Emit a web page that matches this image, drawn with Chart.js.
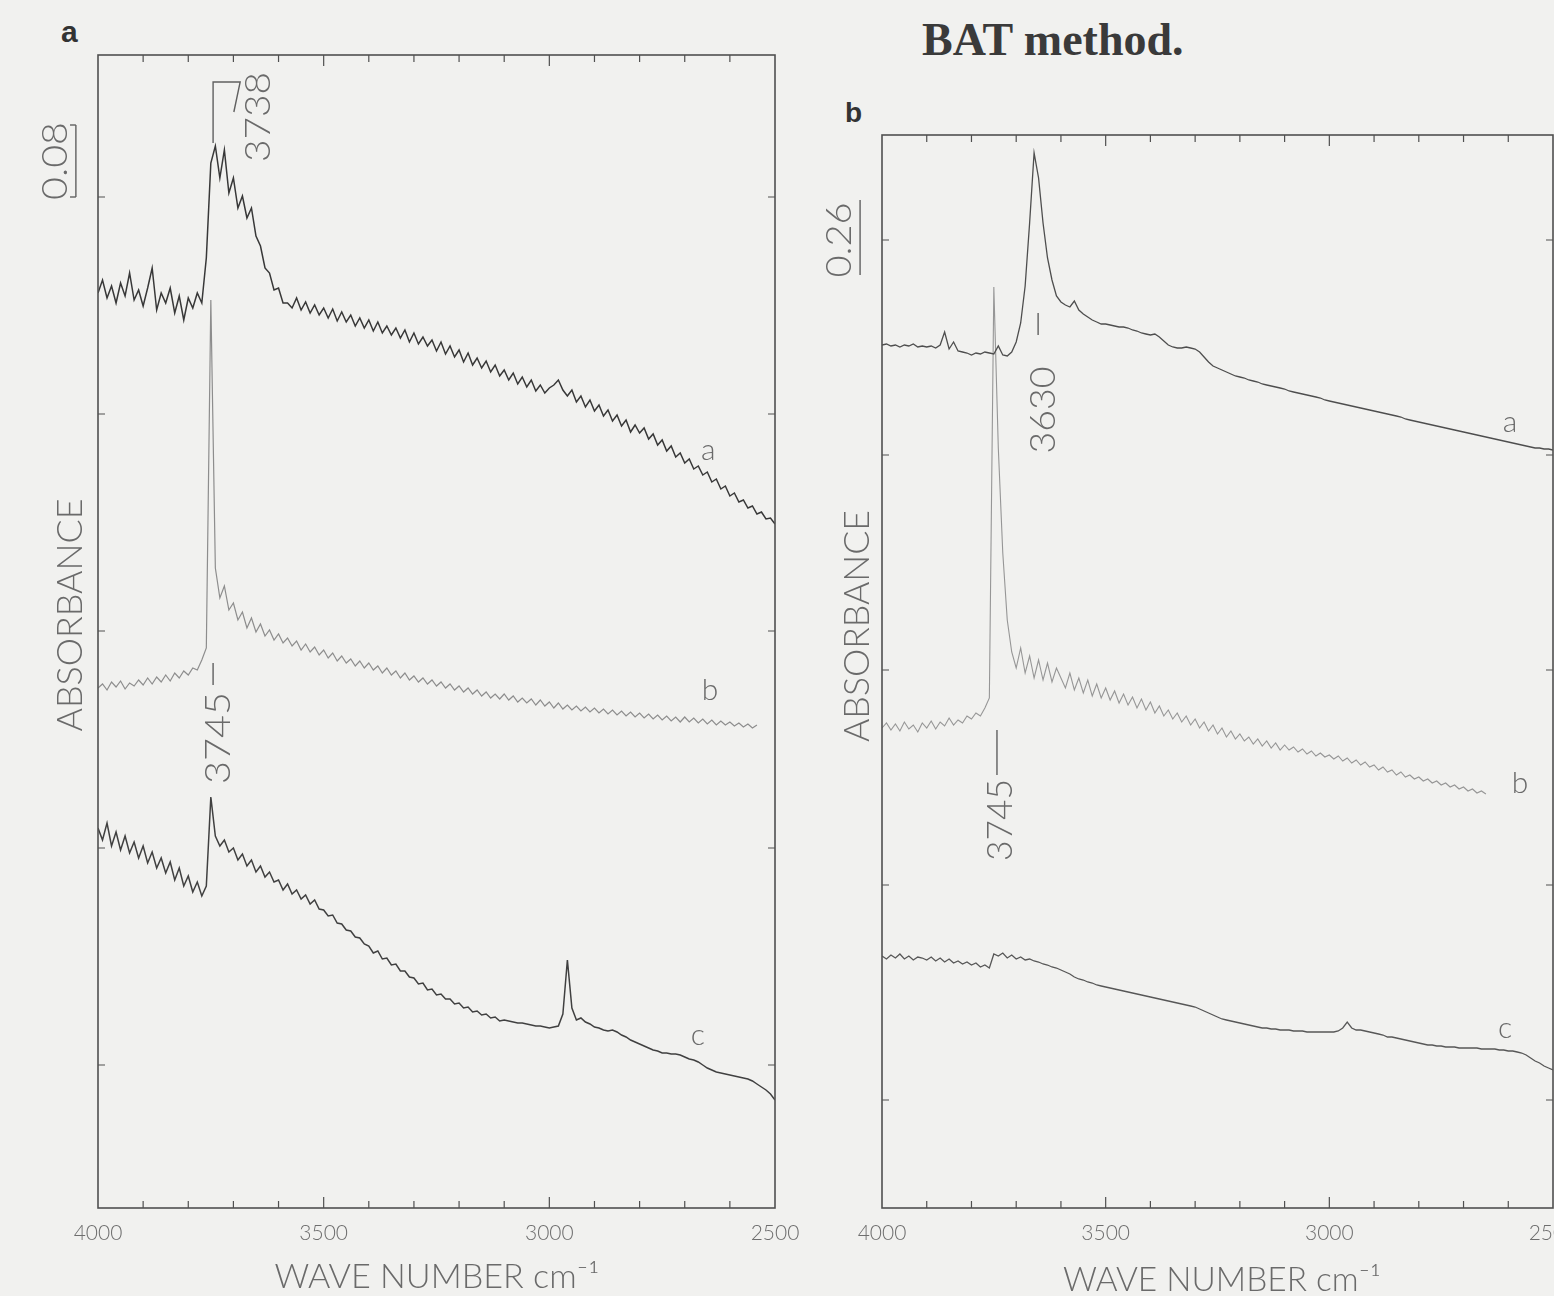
<!DOCTYPE html>
<html>
<head>
<meta charset="utf-8">
<script src="https://cdn.jsdelivr.net/npm/chart.js@4.4.1/dist/chart.umd.min.js"></script>
<style>
  body { margin: 0; width: 1554px; height: 1296px; background: #f1f1ef; overflow: hidden; position: relative; }
  canvas { position: absolute; top: 0; }
  #left { left: 0; }
  #right { left: 800px; }
  .heading { position: absolute; left: 922px; top: 17px; font: bold 46px "Liberation Serif", serif; color: #3a3a3a; line-height: 1; white-space: nowrap; }
  .panel { position: absolute; font: bold 30px "Liberation Sans", sans-serif; color: #333; line-height: 1; }
</style>
</head>
<body>
<div class="heading">BAT method.</div>
<div class="panel" style="left:61px; top:17px;">a</div>
<div class="panel" style="left:845px; top:99px; font-size:28px;">b</div>
<canvas id="left" width="800" height="1296"></canvas>
<canvas id="right" width="754" height="1296"></canvas>
<script>
// wave number grid, 4000 -> 2500 cm-1, one reading every 10 cm-1
const waveNumbers = [];
for (let wn = 4000; wn >= 2500; wn -= 10) waveNumbers.push(wn);

const xTickLabels = [4000, 3500, 3000, 2500];
const xTickMarks = [3900, 3800, 3700, 3600, 3500, 3400, 3300, 3200, 3100, 3000, 2900, 2800, 2700, 2600];

// panel a (relative absorbance, 900 units = 1 absorbance)
const leftA = [
  915, 928, 910, 922, 905, 925, 912, 935, 908, 918,
  902, 920, 940, 898, 915, 905, 920, 895, 912, 888,
  910, 900, 915, 905, 950, 1045, 1062, 1030, 1058, 1015,
  1030, 1000, 1012, 990, 1000, 972, 962, 940, 935, 918,
  920, 905, 905, 900, 910, 898, 906, 895, 903, 893,
  900, 890, 899, 887, 896, 886, 893, 882, 890, 880,
  888, 877, 886, 875, 882, 873, 880, 870, 878, 866,
  875, 864, 871, 862, 868, 857, 866, 854, 862, 851,
  858, 846, 855, 843, 850, 840, 847, 836, 843, 832,
  838, 828, 835, 824, 831, 821, 828, 817, 823, 815,
  820, 823, 828, 818, 812, 818, 806, 812, 801, 808,
  797, 803, 792, 798, 787, 793, 782, 788, 776, 783,
  775, 780, 769, 774, 763, 768, 757, 762, 751, 755,
  745, 749, 739, 742, 733, 736, 726, 729, 719, 722,
  712, 715, 706, 708, 700, 702, 694, 696, 689, 690,
  684
];
const leftB = [
  520, 524, 518, 526, 521, 527, 519, 525, 522, 528,
  523, 530, 524, 531, 526, 533, 527, 535, 530, 537,
  533, 540, 538, 548, 560, 908, 640, 610, 622, 598,
  605, 588, 596, 580, 590, 576, 584, 572, 578, 568,
  574, 565, 570, 562, 567, 558, 564, 556, 561, 553,
  558, 550, 555, 547, 552, 545, 549, 542, 547, 540,
  545, 538, 542, 535, 540, 533, 537, 530, 535, 528,
  532, 526, 530, 524, 528, 522, 526, 520, 524, 518,
  522, 516, 520, 514, 518, 512, 516, 510, 514, 509,
  514, 508, 512, 506, 510, 505, 509, 503, 508, 502,
  506, 500, 505, 499, 503, 498, 502, 497, 501, 496,
  500, 495, 499, 494, 498, 493, 497, 492, 496, 491,
  495, 490, 494, 489, 493, 488, 492, 487, 491, 486,
  491, 486, 490, 485, 489, 484, 488, 483, 487, 483,
  486, 482, 485, 481, 484, 480, 483, null, null, null,
  null
];
const leftC = [
  380, 368, 385, 362, 376, 358, 372, 355, 366, 350,
  362, 345, 356, 340, 350, 335, 346, 328, 340, 322,
  332, 316, 326, 312, 322, 411, 372, 362, 368, 356,
  360, 348, 354, 342, 348, 336, 342, 331, 336, 326,
  328, 318, 324, 314, 318, 309, 313, 304, 308, 299,
  298, 292, 293, 285, 284, 278, 277, 271, 270, 264,
  262, 255, 257, 249, 250, 243, 244, 237, 237, 231,
  230, 224, 225, 218, 219, 213, 214, 209, 209, 204,
  205, 200, 201, 196, 197, 193, 194, 190, 191, 187,
  188, 187, 186, 185, 185, 184, 183, 182, 182, 181,
  180, 181, 182, 194, 248, 200, 188, 190, 186, 184,
  181, 180, 178, 177, 178, 176, 173, 171, 168, 166,
  164, 162, 160, 158, 157, 155, 155, 154, 154, 153,
  151, 149, 148, 146, 143, 140, 138, 136, 135, 134,
  133, 132, 131, 130, 129, 127, 124, 121, 118, 114,
  108
];

// panel b (relative absorbance, 288 units = 1 absorbance)
const rightA = [
  863, 864, 862, 863, 861, 863, 862, 864, 861, 862,
  861, 862, 860, 863, 876, 859, 866, 857, 856, 855,
  853, 855, 854, 856, 855, 854, 862, 853, 852, 856,
  866, 885, 922, 985, 1055, 1030, 985, 950, 928, 912,
  906, 903, 901, 907, 898, 894, 891, 888, 886, 884,
  884, 883, 882, 881, 881, 880, 878, 877, 875, 874,
  873, 874, 871, 867, 863, 861, 860, 860, 861, 860,
  859, 856, 851, 846, 842, 840, 838, 836, 834, 832,
  831, 830, 828, 827, 826, 824, 823, 822, 821, 820,
  819, 817, 816, 815, 814, 813, 812, 811, 810, 808,
  807, 806, 805, 804, 803, 802, 801, 800, 799, 798,
  797, 796, 795, 794, 793, 792, 791, 789, 788, 787,
  786, 785, 784, 783, 782, 781, 780, 779, 778, 777,
  776, 775, 774, 773, 772, 771, 770, 769, 768, 767,
  766, 765, 764, 763, 762, 761, 760, 760, 759, 759,
  758
];
const rightB = [
  480, 485, 478, 484, 477, 486, 479, 483, 476, 485,
  480, 487, 479, 486, 482, 490, 483, 488, 485, 492,
  489, 495, 492, 500, 510, 921, 760, 655, 588, 556,
  540, 560, 535, 552, 530, 548, 528, 545, 526, 540,
  530, 520, 535, 518, 530, 515, 528, 512, 524, 510,
  520, 508, 517, 505, 514, 503, 511, 500, 509, 498,
  506, 495, 502, 492, 498, 489, 495, 486, 492, 483,
  489, 480, 486, 477, 483, 474, 480, 471, 477, 469,
  474, 467, 471, 464, 469, 462, 467, 460, 465, 458,
  463, 458, 461, 456, 459, 454, 457, 452, 455, 451,
  453, 449, 452, 447, 450, 445, 448, 443, 446, 441,
  443, 438, 441, 436, 438, 433, 436, 431, 433, 429,
  431, 427, 429, 425, 427, 423, 425, 421, 423, 419,
  421, 417, 419, 415, 417, 414, null, null, null, null,
  null, null, null, null, null, null, null, null, null, null,
  null
];
const rightC = [
  252, 249, 253, 250, 254, 249, 252, 248, 251, 250,
  248, 251, 247, 250, 246, 249, 245, 247, 244, 246,
  243, 245, 241, 243, 240, 254, 252, 255, 250, 253,
  249, 251, 248, 249, 247, 246, 244, 243, 241, 240,
  238, 236, 234, 231, 229, 228, 226, 225, 223, 222,
  221, 220, 219, 218, 217, 216, 215, 214, 213, 212,
  211, 210, 209, 208, 207, 206, 205, 204, 203, 202,
  201, 199, 197, 195, 193, 191, 189, 188, 187, 186,
  185, 184, 183, 182, 181, 180, 180, 179, 179, 178,
  178, 178, 177, 177, 177, 176, 176, 176, 176, 176,
  176, 176, 177, 180, 186, 180, 178, 178, 177, 176,
  175, 174, 173, 171, 171, 170, 169, 168, 167, 166,
  165, 164, 163, 163, 162, 162, 161, 161, 161, 160,
  160, 160, 160, 160, 159, 159, 159, 159, 158, 158,
  157, 157, 156, 155, 153, 150, 147, 145, 142, 140,
  138
];

const textFont = "Lato, 'DejaVu Sans', sans-serif";
const toPoints = (values) => values.map((v, i) => ({ x: waveNumbers[i], y: v }));

const drawText = (ctx, t, x, y) => {
  ctx.save();
  ctx.translate(x, y);
  if (t.rotate) ctx.rotate(-Math.PI / 2);
  ctx.font = `300 ${t.size}px ${textFont}`;
  ctx.fillStyle = t.color || "#6a6a6a";
  ctx.textAlign = "center";
  ctx.textBaseline = "middle";
  if (t.width) ctx.scale(t.width / ctx.measureText(t.text).width, 1);
  ctx.fillText(t.text, 0, 0);
  ctx.restore();
};

// frame, inward tick marks, peak markers and captions
const annotate = {
  id: "annotate",
  afterDraw(chart, args, opts) {
    const { ctx, chartArea: area, scales: { x, y } } = chart;
    const px = (wn) => x.getPixelForValue(wn);
    const py = (v) => y.getPixelForValue(v);
    ctx.save();
    ctx.strokeStyle = "#505050";
    ctx.lineWidth = 1.6;
    ctx.strokeRect(area.left, area.top, area.right - area.left, area.bottom - area.top);

    ctx.lineWidth = 1.2;
    ctx.beginPath();
    xTickMarks.forEach((wn) => {
      const len = wn % 500 === 0 ? 11 : 7;
      ctx.moveTo(px(wn), area.bottom);
      ctx.lineTo(px(wn), area.bottom - len);
      ctx.moveTo(px(wn), area.top);
      ctx.lineTo(px(wn), area.top + len);
    });
    opts.yTicks.forEach((v) => {
      ctx.moveTo(area.left, py(v));
      ctx.lineTo(area.left + 7, py(v));
      ctx.moveTo(area.right, py(v));
      ctx.lineTo(area.right - 7, py(v));
    });
    ctx.stroke();

    ctx.strokeStyle = "#606060";
    ctx.lineWidth = 1.4;
    opts.leaders.forEach((pts) => {
      ctx.beginPath();
      pts.forEach(([wn, v], i) => (i ? ctx.lineTo(px(wn), py(v)) : ctx.moveTo(px(wn), py(v))));
      ctx.stroke();
    });

    opts.texts.forEach((t) => drawText(ctx, t, px(t.wn), py(t.v)));
    ctx.restore();
  },
};

const makeChart = (id, series, yMax, padding, annotations) => {
  const datasets = series.map((s) => ({
    data: toPoints(s.values),
    borderColor: s.color,
    borderWidth: s.width,
    pointRadius: 0,
    tension: 0,
    spanGaps: false,
  }));

  new Chart(id, {
    type: "line",
    data: { datasets },
    options: {
      responsive: false,
      animation: false,
      devicePixelRatio: 1,
      layout: { padding },
      plugins: {
        legend: { display: false },
        tooltip: { enabled: false },
        annotate: annotations,
      },
      scales: {
        x: {
          type: "linear",
          reverse: true,
          min: 2500,
          max: 4000,
          grid: { display: false },
          border: { display: false },
          afterBuildTicks: (scale) => {
            scale.ticks = xTickLabels.map((value) => ({ value }));
          },
          afterFit: (scale) => {
            scale.height = 40;
            scale.paddingLeft = 0;
            scale.paddingRight = 0;
          },
          ticks: {
            color: "#6e6e6e",
            padding: 5,
            maxRotation: 0,
            autoSkip: false,
            font: { family: textFont, size: 21, weight: 300 },
            callback: (value) => String(value),
          },
        },
        y: { type: "linear", display: false, min: 0, max: yMax },
      },
    },
    plugins: [annotate],
  });
};

makeChart(
  "left",
  [
    { values: leftA, color: "#383838", width: 1.5 },
    { values: leftB, color: "#8d8d8d", width: 1.2 },
    { values: leftC, color: "#404040", width: 1.5 },
  ],
  1153,
  { left: 98, right: 25, top: 55, bottom: 48 },
  {
    yTicks: [143, 360, 577, 794, 1011],
    leaders: [
      [[4049, 1083], [4049, 1011]],
      [[4062, 1083], [4049, 1083]],
      [[4062, 1011], [4049, 1011]],
      [[3745, 1065], [3745, 1126], [3685, 1126], [3699, 1096]],
      [[3745, 545], [3745, 523]],
    ],
    texts: [
      { text: "0.08", wn: 4095, v: 1047, size: 36, width: 78, rotate: true },
      { text: "3738", wn: 3645, v: 1091, size: 36, width: 90, rotate: true },
      { text: "3745", wn: 3734, v: 470, size: 36, width: 92, rotate: true },
      { text: "ABSORBANCE", wn: 4062, v: 593, size: 36, width: 233, rotate: true },
      { text: "WAVE NUMBER cm⁻¹", wn: 3249, v: -69, size: 34, width: 325 },
      { text: "a", wn: 2648, v: 758, size: 30 },
      { text: "b", wn: 2644, v: 518, size: 30 },
      { text: "c", wn: 2671, v: 173, size: 30 },
    ],
  }
);

makeChart(
  "right",
  [
    { values: rightA, color: "#4e4e4e", width: 1.3 },
    { values: rightB, color: "#969696", width: 1.1 },
    { values: rightC, color: "#575757", width: 1.3 },
  ],
  1073,
  { left: 82, right: 1, top: 135, bottom: 48 },
  {
    yTicks: [108, 323, 538, 753, 968],
    leaders: [
      [[4049, 1008], [4049, 933]],
      [[3651, 895], [3651, 873]],
      [[3743, 478], [3743, 433]],
    ],
    texts: [
      { text: "0.26", wn: 4096, v: 968, size: 36, width: 75, rotate: true },
      { text: "3630", wn: 3640, v: 798, size: 36, width: 87, rotate: true },
      { text: "3745", wn: 3736, v: 388, size: 36, width: 82, rotate: true },
      { text: "ABSORBANCE", wn: 4054, v: 582, size: 36, width: 232, rotate: true },
      { text: "WAVE NUMBER cm⁻¹", wn: 3240, v: -72, size: 34, width: 318 },
      { text: "a", wn: 2596, v: 786, size: 30 },
      { text: "b", wn: 2574, v: 425, size: 30 },
      { text: "c", wn: 2607, v: 180, size: 30 },
    ],
  }
);
</script>
</body>
</html>
